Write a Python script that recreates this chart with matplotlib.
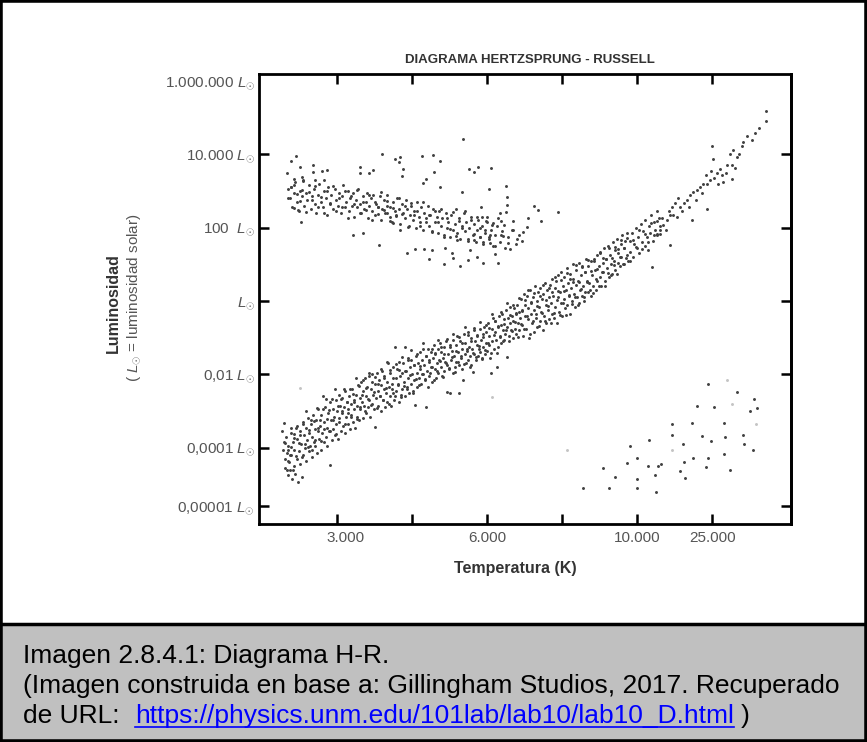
import numpy as np
import matplotlib
matplotlib.use('Agg')
import matplotlib.pyplot as plt
from matplotlib.patches import Rectangle
from matplotlib.lines import Line2D
from matplotlib.transforms import ScaledTranslation

plt.rcParams['font.family'] = ['Liberation Sans', 'DejaVu Sans']
plt.rcParams['mathtext.fontset'] = 'custom'
plt.rcParams['mathtext.rm'] = 'Liberation Sans'
plt.rcParams['mathtext.it'] = 'Liberation Sans:italic'

# eje x: posicion de temperatura (3.000 ... 25.000), eje y: log10(L / Lsol)
x_ticks = [0, 1, 2, 3, 4, 5]
x_labels = ['3.000', '', '6.000', '', '10.000', '25.000']
y_ticks = [6, 4, 2, 0, -2, -4, -5.59]
y_labels = ['1.000.000 $L_{\\odot}$', '10.000 $L_{\\odot}$', '100  $L_{\\odot}$', '$L_{\\odot}$',
            '0,01 $L_{\\odot}$', '0,0001 $L_{\\odot}$', '0,00001 $L_{\\odot}$']
y_ticks_right = [4, 2, 0, -2, -5.59]

# secuencia principal (parte baja)
ms_low = [
    (-0.74, -3.55), (-0.72, -4.05), (-0.71, -3.85), (-0.70, -4.30), (-0.69, -4.55), (-0.68, -3.70), (-0.67, -4.15),
    (-0.66, -4.75), (-0.65, -3.95), (-0.64, -4.40), (-0.63, -4.62), (-0.62, -3.60), (-0.61, -4.20), (-0.60, -4.85),
    (-0.59, -3.85), (-0.58, -4.50), (-0.57, -4.05), (-0.56, -4.72), (-0.55, -3.45), (-0.54, -4.30), (-0.53, -3.75),
    (-0.52, -4.93), (-0.51, -4.10), (-0.50, -3.55), (-0.49, -4.45), (-0.48, -3.90), (-0.47, -4.80), (-0.46, -3.30),
    (-0.45, -4.20), (-0.44, -3.65), (-0.43, -4.00), (-0.42, -3.45), (-0.41, -4.35), (-0.40, -3.80), (-0.39, -3.20),
    (-0.38, -4.10), (-0.37, -3.60), (-0.36, -3.95), (-0.35, -3.35), (-0.34, -4.25), (-0.33, -3.70), (-0.32, -3.10),
    (-0.31, -3.85), (-0.30, -3.50), (-0.71, -3.32), (-0.66, -4.35), (-0.61, -3.98), (-0.57, -3.62),
    (-0.29, -3.95), (-0.28, -3.25), (-0.27, -4.15), (-0.26, -3.55), (-0.25, -2.95), (-0.24, -3.75), (-0.23, -3.40),
    (-0.22, -4.05), (-0.21, -3.10), (-0.20, -3.60), (-0.19, -2.60), (-0.18, -3.85), (-0.17, -3.30), (-0.16, -2.90),
    (-0.15, -3.70), (-0.14, -3.45), (-0.13, -3.95), (-0.12, -3.05), (-0.11, -3.55), (-0.10, -2.75), (-0.09, -4.47),
    (-0.08, -3.25), (-0.07, -3.80), (-0.06, -2.95), (-0.05, -3.50), (-0.04, -3.15), (-0.03, -3.65), (-0.02, -2.70),
    (-0.01, -3.35), (0.00, -3.00), (0.01, -3.75), (0.02, -2.55), (0.03, -3.20), (0.04, -2.85), (0.05, -3.55),
    (0.06, -3.05), (0.07, -2.65), (0.08, -3.40), (0.09, -2.90), (0.10, -3.60), (0.11, -2.45), (0.12, -3.15),
    (0.13, -2.75), (0.14, -3.35), (0.15, -2.95), (0.16, -2.60), (0.17, -3.50), (0.18, -2.80), (0.19, -3.10),
    (0.20, -2.40), (0.21, -3.30), (0.22, -2.70), (0.23, -2.95), (0.24, -3.45), (0.25, -2.55), (0.26, -3.15),
    (0.27, -2.85), (0.28, -2.30), (0.29, -3.25), (0.30, -2.65),
    (0.31, -2.95), (0.32, -2.20), (0.33, -2.75), (0.34, -3.20), (0.35, -2.45), (0.36, -2.85), (0.37, -2.10),
    (0.38, -3.05), (0.39, -2.60), (0.40, -2.35), (0.41, -2.90), (0.42, -2.05), (0.43, -2.70), (0.44, -3.15),
    (0.45, -2.40), (0.46, -2.80), (0.47, -2.00), (0.48, -2.55), (0.49, -2.95), (0.50, -2.25), (0.51, -3.43),
    (0.52, -2.65), (0.53, -1.95), (0.54, -2.45), (0.55, -2.85), (0.56, -2.15), (0.57, -2.60), (0.58, -3.00),
    (0.59, -2.30), (0.60, -1.90), (0.61, -2.70), (0.62, -2.40), (0.63, -2.05), (0.64, -2.90), (0.65, -2.50),
    (0.66, -2.20), (0.67, -2.75), (0.68, -1.69), (0.69, -2.35), (0.70, -2.60), (0.71, -1.95), (0.72, -2.85),
    (0.73, -2.25), (0.74, -2.50), (0.75, -1.80),
]

# secuencia principal (parte media)
ms_mid = [
    (0.76, -2.70), (0.77, -1.25), (0.78, -2.10), (0.79, -2.45), (0.80, -1.85), (0.81, -2.30), (0.82, -2.75),
    (0.83, -1.65), (0.84, -2.05), (0.85, -2.55), (0.86, -1.95), (0.87, -2.40), (0.88, -1.70), (0.89, -2.20),
    (0.90, -2.60), (0.91, -1.25), (0.92, -1.90), (0.93, -2.35), (0.94, -1.55), (0.95, -2.10), (0.96, -2.50),
    (0.97, -1.80), (0.98, -2.25), (0.99, -1.60), (1.00, -2.00), (1.01, -2.45), (1.02, -1.75), (1.03, -2.15),
    (1.04, -2.83), (1.05, -1.50), (1.06, -1.95), (1.07, -2.35), (1.08, -1.70), (1.09, -2.10), (1.10, -1.40),
    (1.11, -1.85), (1.12, -2.25), (1.13, -1.60), (1.14, -2.00), (1.15, -1.14), (1.16, -1.75), (1.17, -2.15),
    (1.18, -1.50), (1.19, -2.89), (1.20, -1.90),
    (1.21, -1.30), (1.22, -2.05), (1.23, -1.65), (1.24, -1.95), (1.25, -1.40), (1.26, -1.80), (1.27, -2.20),
    (1.28, -1.55), (1.29, -1.20), (1.30, -1.85), (1.31, -1.45), (1.32, -2.10), (1.33, -1.70), (1.34, -1.30),
    (1.35, -1.95), (1.36, -1.60), (1.37, -1.15), (1.38, -1.80), (1.39, -1.40), (1.40, -2.05), (1.41, -1.55),
    (1.42, -1.25), (1.43, -1.90), (1.44, -1.65), (1.45, -1.10), (1.46, -1.75), (1.47, -2.48), (1.48, -1.45),
    (1.49, -1.85), (1.50, -1.20), (1.51, -2.51), (1.52, -1.60), (1.53, -1.35), (1.54, -1.95), (1.55, -1.05),
    (1.56, -1.50), (1.57, -1.80), (1.58, -1.20), (1.59, -1.65), (1.60, -0.95), (1.61, -1.40), (1.62, -2.51),
    (1.63, -1.75), (1.64, -1.10), (1.65, -1.55), (1.66, -1.30), (1.67, -1.85), (1.68, -2.15), (1.69, -0.90),
    (1.70, -1.45), (1.71, -1.15), (1.72, -1.70), (1.73, -1.35), (1.74, -0.85), (1.75, -1.60), (1.76, -1.25),
    (1.77, -1.50), (1.78, -1.00), (1.79, -1.75), (1.80, -1.30), (1.81, -1.93), (1.82, -0.80), (1.83, -1.45),
    (1.84, -1.10), (1.85, -1.60), (1.86, -1.20), (1.87, -0.95), (1.88, -1.50), (1.89, -1.30), (1.90, -0.75),
    (1.91, -1.40), (1.92, -1.05), (1.93, -1.55), (1.94, -0.90), (1.95, -1.25), (1.96, -0.70), (1.97, -1.45),
    (1.98, -1.15), (1.99, -0.85), (2.00, -1.35),
    (2.01, -0.60), (2.02, -1.20), (2.03, -0.95), (2.04, -1.55), (2.05, -1.96), (2.06, -0.75), (2.07, -1.10),
    (2.08, -0.45), (2.09, -1.30), (2.10, -0.85), (2.11, -0.55), (2.12, -1.05), (2.13, -1.80), (2.14, -0.70),
    (2.15, -1.25), (2.16, -0.40), (2.17, -0.95), (2.18, -0.65), (2.19, -1.15), (2.20, -0.35), (2.21, -0.80),
    (2.22, -1.05), (2.23, -0.50), (2.24, -0.90), (2.25, -0.25), (2.26, -0.70), (2.27, -1.53), (2.28, -0.45),
    (2.29, -0.95), (2.30, -0.60), (2.31, -0.15), (2.32, -0.80), (2.33, -0.40), (2.34, -1.00), (2.35, -0.55),
    (2.36, -0.20), (2.37, -0.75), (2.38, -0.35), (2.39, -0.90), (2.40, -0.10), (2.41, -0.60), (2.42, -0.30),
    (2.43, -0.80), (2.44, -0.45),
    (2.45, 0.05), (2.46, -0.65), (2.47, -0.25), (2.48, -0.95), (2.49, 0.20), (2.50, -0.40), (2.51, -0.10),
    (2.52, -0.75), (2.53, 0.15), (2.54, -0.50), (2.55, -0.20), (2.56, -1.00), (2.57, 0.30), (2.58, -0.35),
    (2.59, -0.05), (2.60, -0.60), (2.61, 0.10), (2.62, -0.85), (2.63, -0.25), (2.64, 0.40), (2.65, -0.45),
    (2.66, 0.00), (2.67, -0.70), (2.68, 0.25), (2.69, -0.15), (2.70, -0.55), (2.71, 0.35), (2.72, -0.30),
    (2.73, 0.05), (2.74, -0.80), (2.75, 0.20), (2.76, -0.40), (2.77, 0.50), (2.78, -0.10), (2.79, -0.60),
    (2.80, 0.30), (2.81, -0.25), (2.82, 0.10), (2.83, -0.50), (2.84, 0.45), (2.85, -0.05), (2.86, -0.35),
    (2.87, 0.60), (2.88, 0.15),
    (2.89, -0.45), (2.90, 0.35), (2.91, -0.15), (2.92, 0.55), (2.93, -0.60), (2.94, 0.10), (2.95, 0.70),
    (2.96, -0.30), (2.97, 0.25), (2.98, -0.05), (2.99, 0.80), (3.00, -0.40), (3.01, 0.40), (3.02, 0.05),
    (3.03, 0.65), (3.04, -0.20), (3.05, 0.30), (3.06, 0.90), (3.07, -0.10), (3.08, 0.50), (3.09, 0.15),
    (3.10, -0.35), (3.11, 0.75), (3.12, 0.35), (3.13, 0.00), (3.14, 0.60), (3.15, 1.00), (3.16, 0.20),
    (3.17, -0.15), (3.18, 0.45), (3.19, 0.85), (3.20, 0.10), (3.21, 0.55), (3.22, -0.05), (3.23, 1.05),
    (3.24, 0.30), (3.25, 0.70), (3.26, 0.15), (3.27, 0.95), (3.28, 0.40), (3.29, 0.00), (3.30, 0.80),
    (3.31, 0.25), (3.32, 1.15), (3.33, 0.55),
]

# secuencia principal (parte alta)
ms_high = [
    (3.34, 0.25), (3.35, 0.95), (3.36, 0.50), (3.38, 1.10), (3.38, 0.15), (3.40, 0.70), (3.41, 0.40),
    (3.42, 1.15), (3.44, 0.85), (3.45, 0.30), (3.46, 1.25), (3.47, 0.55), (3.49, 0.95), (3.50, 0.65),
    (3.51, 1.35), (3.52, 0.40), (3.54, 1.05), (3.55, 0.80), (3.56, 1.45), (3.57, 0.55), (3.59, 1.15),
    (3.60, 0.90), (3.61, 1.50), (3.62, 0.65), (3.64, 1.25), (3.65, 1.00), (3.66, 0.75), (3.68, 1.60),
    (3.69, 1.10), (3.70, 0.85), (3.71, 1.40), (3.73, 1.70), (3.74, 1.05), (3.75, 1.30), (3.77, 0.95),
    (3.78, 1.55), (3.79, 1.20), (3.80, 1.80), (3.82, 1.00), (3.83, 1.45), (3.84, 1.65), (3.86, 1.25),
    (3.87, 1.85),
    (3.88, 1.10), (3.90, 1.65), (3.91, 1.35), (3.93, 1.85), (3.95, 1.20), (3.96, 1.55), (3.98, 2.00),
    (4.00, 1.45), (4.01, 1.75), (4.03, 1.30), (4.05, 2.10), (4.06, 1.60), (4.08, 1.90), (4.10, 1.50),
    (4.11, 2.20), (4.13, 1.75), (4.14, 1.40), (4.16, 2.05), (4.17, 1.85), (4.19, 2.35), (4.20, 0.93),
    (4.21, 1.65), (4.23, 2.15), (4.24, 1.95), (4.26, 2.45), (4.27, 1.80), (4.29, 2.25), (4.30, 2.05),
    (4.26, 1.84), (4.31, 1.93), (4.35, 2.07), (4.40, 2.21), (4.44, 2.34), (4.44, 1.53), (4.46, 2.55),
    (4.51, 2.66), (4.53, 2.30), (4.57, 2.57), (4.62, 2.66), (4.66, 2.75), (4.71, 2.88), (4.73, 2.21),
    (4.75, 2.98), (4.80, 3.04), (4.84, 3.10), (4.88, 3.19), (4.93, 3.19), (4.92, 3.43), (4.93, 2.51),
    (4.97, 3.30), (4.33, 2.25), (4.38, 1.95), (4.42, 2.45), (4.48, 2.35), (4.55, 2.80), (4.60, 2.45),
    (4.69, 2.55), (4.78, 2.75), (4.86, 2.95), (4.98, 3.55),
    (5.00, 4.22), (5.01, 3.86), (5.02, 3.36), (5.06, 3.48), (5.08, 3.20), (5.10, 3.60), (5.13, 3.43),
    (5.15, 3.25), (5.18, 3.48), (5.20, 3.70), (5.24, 4.00), (5.26, 3.33), (5.27, 3.71), (5.28, 4.11),
    (5.31, 3.62), (5.33, 3.92), (5.36, 4.02), (5.40, 4.24), (5.41, 4.33), (5.46, 4.51), (5.53, 4.39),
    (5.57, 4.59), (5.62, 4.71), (5.72, 4.90), (5.72, 5.19),
]

# secuencia principal (relleno del nucleo)
ms_fill = [
    (-0.69, -3.86), (-0.67, -4.62), (-0.65, -4.05), (-0.63, -4.21), (-0.61, -3.47), (-0.59, -4.60), (-0.57, -3.73),
    (-0.55, -4.23), (-0.53, -3.42), (-0.51, -3.87), (-0.49, -3.66), (-0.47, -4.26), (-0.45, -3.34), (-0.43, -3.90),
    (-0.41, -3.01), (-0.39, -3.99), (-0.37, -3.53), (-0.35, -3.25), (-0.33, -4.06), (-0.31, -3.27), (-0.29, -3.78),
    (-0.27, -2.91), (-0.25, -3.47), (-0.23, -3.24), (-0.21, -3.83), (-0.19, -2.95), (-0.17, -3.49), (-0.15, -2.66),
    (-0.13, -3.23), (-0.11, -2.97), (-0.09, -3.54), (-0.07, -2.68), (-0.05, -3.24), (-0.03, -2.41), (-0.01, -3.62),
    (0.01, -2.86), (0.03, -3.29), (0.05, -2.66), (0.07, -2.99), (0.09, -2.41), (0.11, -3.34), (0.13, -2.76),
    (0.15, -3.04), (0.17, -2.41), (0.19, -3.16), (0.21, -2.53), (0.23, -2.74), (0.25, -2.11), (0.27, -3.22),
    (0.29, -2.33), (0.31, -2.89), (0.33, -2.55), (0.35, -2.15), (0.37, -3.01), (0.39, -2.37), (0.41, -2.67),
    (0.43, -1.97), (0.45, -2.83), (0.47, -2.21), (0.49, -2.48), (0.51, -2.06), (0.53, -2.92), (0.55, -2.27),
    (0.57, -2.58), (0.59, -1.86), (0.61, -2.69), (0.63, -2.10), (0.65, -2.37), (0.67, -1.65), (0.69, -2.81),
    (0.71, -1.89), (0.73, -2.39), (0.75, -2.11), (0.77, -2.59), (0.79, -1.71), (0.81, -2.25), (0.83, -1.88),
    (0.85, -2.61), (0.87, -1.52), (0.89, -2.32), (0.91, -1.91), (0.93, -2.39), (0.95, -1.62), (0.97, -2.03),
    (0.99, -1.34), (1.01, -2.50), (1.03, -1.75), (1.05, -2.13), (1.07, -1.44), (1.09, -2.30), (1.11, -1.78),
    (1.13, -1.99), (1.15, -1.31), (1.17, -2.13), (1.19, -1.51), (1.21, -2.34), (1.23, -1.60), (1.25, -1.80),
    (1.27, -1.30), (1.29, -2.14), (1.31, -1.42), (1.33, -1.90), (1.35, -1.05), (1.37, -1.63), (1.39, -1.26),
    (1.41, -2.06), (1.43, -1.44), (1.45, -1.70), (1.47, -1.03), (1.49, -1.84), (1.51, -1.26), (1.53, -1.54),
    (1.55, -0.90), (1.57, -1.93), (1.59, -1.35), (1.61, -1.67), (1.63, -0.98), (1.65, -1.49), (1.67, -1.14),
    (1.69, -1.73), (1.71, -0.71), (1.73, -1.32), (1.75, -0.94), (1.77, -1.80), (1.79, -1.09), (1.81, -1.42),
    (1.83, -0.73), (1.85, -1.53), (1.87, -0.92), (1.89, -1.22), (1.91, -0.58), (1.93, -1.58), (1.95, -0.99),
    (1.97, -1.33), (1.99, -0.66), (2.01, -1.14), (2.03, -0.74), (2.05, -1.41), (2.07, -0.35), (2.09, -0.93),
    (2.11, -0.55), (2.13, -1.42), (2.15, -0.67), (2.17, -0.99), (2.19, -0.29), (2.21, -1.09), (2.23, -0.63),
    (2.25, -0.78), (2.27, -0.05), (2.29, -1.10), (2.31, -0.38), (2.33, -0.83), (2.35, -0.12), (2.37, -0.58),
    (2.39, -0.32), (2.41, -0.99), (2.43, 0.09), (2.45, -0.64), (2.47, -0.26), (2.49, -0.76), (2.51, 0.02),
    (2.53, -0.41), (2.55, 0.31), (2.57, -0.89), (2.59, -0.04), (2.61, -0.54), (2.63, 0.23), (2.65, -0.35),
    (2.67, -0.14), (2.69, -0.69), (2.71, 0.15), (2.73, -0.33), (2.75, 0.43), (2.77, -0.55), (2.79, 0.04),
    (2.81, -0.14), (2.83, 0.35), (2.85, -0.61), (2.87, 0.24), (2.89, -0.34), (2.91, 0.66), (2.93, 0.02),
    (2.95, 0.27), (2.97, -0.38), (2.99, 0.57), (3.01, -0.05), (3.03, 0.28), (3.05, -0.37), (3.07, 0.77),
    (3.09, 0.16), (3.11, 0.61), (3.13, -0.07), (3.15, 0.51), (3.17, 0.11), (3.19, 0.99), (3.21, -0.11),
    (3.23, 0.52), (3.25, 0.34), (3.27, 0.92), (3.29, 0.10), (3.31, 0.79), (3.33, 0.52), (3.35, 1.13),
    (3.37, 0.31), (3.39, 0.81), (3.41, 0.22), (3.43, 1.10), (3.45, 0.60), (3.47, 0.86), (3.49, 0.42),
    (3.51, 1.32), (3.53, 0.80), (3.55, 1.18), (3.57, 0.41), (3.59, 1.14), (3.61, 0.77), (3.63, 1.45),
    (3.65, 0.70), (3.67, 1.16), (3.69, 0.99), (3.71, 1.47), (3.73, 0.75), (3.75, 1.41), (3.77, 1.21),
    (3.79, 1.67), (3.81, 1.02), (3.83, 1.45), (3.85, 1.18), (3.87, 1.72), (3.90, 1.10), (3.94, 1.66),
    (3.98, 1.47), (4.02, 1.93), (4.06, 1.41), (4.10, 1.83), (4.14, 1.61), (4.18, 2.12), (4.22, 1.81),
    (4.26, 2.18), (4.30, 1.84),
]

# gigantes (nucleo denso)
giants_core = [
    (-0.63, 2.80), (-0.61, 3.10), (-0.60, 2.55), (-0.57, 2.95), (-0.56, 3.25), (-0.54, 2.70), (-0.51, 2.45),
    (-0.50, 3.00), (-0.47, 2.85), (-0.46, 3.30), (-0.44, 2.60), (-0.41, 2.95), (-0.40, 2.75), (-0.38, 3.15),
    (-0.35, 2.50), (-0.34, 2.85), (-0.31, 3.05), (-0.30, 2.65), (-0.28, 2.40), (-0.25, 2.90), (-0.24, 3.20),
    (-0.22, 2.70), (-0.19, 2.55), (-0.18, 3.00), (-0.15, 2.80), (-0.13, 2.35), (-0.12, 3.10), (-0.09, 2.65),
    (-0.08, 2.90), (-0.05, 2.50), (-0.03, 3.05), (-0.02, 2.75), (0.01, 2.60), (0.02, 2.95), (0.05, 2.40),
    (0.06, 2.85), (0.08, 3.15), (0.10, 2.55), (0.12, 2.70), (0.14, 3.00), (0.16, 2.45), (0.17, 2.80),
    (0.20, 2.60), (0.21, 2.95), (0.23, 2.30), (0.25, 2.75), (0.27, 2.55), (0.28, 3.05), (0.31, 2.65),
    (0.32, 2.40), (0.34, 2.85), (0.36, 2.50), (0.38, 2.70), (0.40, 2.95), (0.41, 2.25), (0.43, 2.60),
    (0.45, 2.80), (0.47, 2.45), (0.48, 2.90), (0.51, 2.35), (0.52, 2.65), (0.54, 2.55), (0.57, 2.85),
    (0.58, 2.20), (0.60, 2.50), (0.62, 2.75), (0.64, 2.40), (0.66, 2.60), (0.67, 2.90), (0.70, 2.30),
    (0.71, 2.55), (0.73, 2.15), (0.75, 2.70), (0.77, 2.45), (0.79, 2.35), (0.80, 2.80), (0.83, 2.50),
    (0.84, 2.10), (0.86, 2.65), (0.88, 2.40), (0.90, 2.25), (0.92, 2.75), (0.93, 2.50), (0.96, 2.05),
    (0.97, 2.35), (0.99, 2.60), (1.01, 2.20), (1.03, 2.45), (1.05, 2.00), (1.06, 2.70), (1.09, 2.30),
    (1.10, 2.15), (1.12, 2.55), (1.15, 1.95), (1.16, 2.40), (1.18, 2.25), (1.21, 2.60), (1.22, 2.05),
    (1.24, 2.35), (1.27, 1.90), (1.28, 2.50), (1.30, 2.15), (1.33, 2.30), (1.34, 1.85), (1.36, 2.45),
    (1.39, 2.05), (1.40, 2.25), (1.42, 1.80), (1.45, 2.40), (1.46, 2.00), (1.48, 2.15), (1.51, 1.75),
    (1.52, 2.35), (1.54, 1.95), (1.57, 2.10), (1.58, 2.50), (1.60, 1.85), (1.63, 2.25), (1.64, 1.70),
    (1.66, 2.05), (1.69, 2.40), (1.70, 1.90), (1.72, 2.15), (1.75, 1.65), (1.76, 2.00), (1.78, 2.30),
    (1.81, 1.80), (1.82, 2.10), (1.85, 1.60), (1.87, 1.95), (1.88, 2.20), (1.91, 1.75), (1.93, 2.05),
    (1.95, 1.55), (1.97, 1.85), (2.00, 2.15), (2.02, 1.70), (2.05, 1.95), (2.08, 1.50), (2.10, 1.80),
    (2.13, 2.05), (2.17, 1.60), (2.20, 1.90), (2.24, 1.45), (2.28, 1.75), (2.33, 1.95), (2.38, 1.55),
    (2.42, 1.80), (2.47, 1.65),
    (-0.62, 3.10), (-0.58, 2.54), (-0.54, 2.93), (-0.50, 2.72), (-0.46, 3.26), (-0.42, 2.44), (-0.38, 2.97),
    (-0.34, 2.76), (-0.30, 3.13), (-0.26, 2.57), (-0.22, 2.83), (-0.18, 2.40), (-0.14, 3.01), (-0.10, 2.66),
    (-0.06, 3.14), (-0.02, 2.45), (0.02, 2.82), (0.06, 2.55), (0.10, 3.00), (0.14, 2.26), (0.18, 2.85),
    (0.22, 2.64), (0.26, 3.03), (0.30, 2.39), (0.34, 2.70), (0.38, 2.49), (0.42, 2.88), (0.46, 2.21),
    (0.50, 2.70), (0.54, 2.37), (0.58, 2.97), (0.62, 2.48), (0.66, 2.73), (0.70, 2.18), (0.74, 2.54),
    (0.78, 2.31), (0.82, 2.81), (0.86, 2.37), (0.90, 2.60), (0.94, 2.01), (0.98, 2.66), (1.02, 2.34),
    (1.06, 2.45), (1.10, 2.05), (1.14, 2.71), (1.18, 2.16), (1.22, 2.34), (1.26, 1.89), (1.30, 2.45),
    (1.34, 2.15), (1.38, 2.51), (1.42, 1.74), (1.46, 2.27), (1.50, 1.97), (1.54, 2.43), (1.58, 1.78),
    (1.62, 2.17), (1.66, 1.99), (1.70, 2.45), (1.74, 1.69), (1.78, 2.22), (1.82, 1.84), (1.86, 2.30),
    (1.90, 1.98), (1.94, 1.60), (1.98, 2.19), (2.02, 1.75), (2.06, 2.07), (2.10, 1.50), (2.14, 2.27),
    (2.18, 1.81), (2.22, 2.07), (2.28, 1.59), (2.34, 1.95), (2.40, 1.70),
]

# gigantes (dispersas)
giants_sparse = [
    (-0.55, 3.96), (-0.61, 3.81), (-0.67, 3.50), (-0.50, 3.66), (-0.58, 3.34), (-0.58, 3.16), (-0.65, 3.05),
    (-0.65, 2.81), (-0.47, 3.39), (-0.47, 3.02), (-0.32, 3.71), (-0.32, 3.52), (-0.20, 3.55), (-0.14, 3.57),
    (-0.29, 3.30), (-0.18, 3.30), (-0.52, 2.48), (-0.48, 2.16), (0.31, 3.66), (0.31, 3.48), (0.42, 3.50),
    (0.48, 3.57), (0.60, 4.02), (0.77, 3.87), (0.84, 3.92), (0.83, 3.78), (0.88, 3.59), (0.86, 3.41),
    (1.13, 3.96), (1.28, 3.98), (1.37, 3.81), (1.29, 3.52), (1.19, 3.34), (1.15, 3.21), (1.37, 3.11),
    (1.76, 3.60), (1.82, 3.51), (1.88, 3.66), (2.05, 3.63), (2.02, 3.05), (2.25, 3.14), (2.26, 2.84),
    (1.66, 2.98), (0.21, 1.80), (0.35, 1.86), (0.56, 1.52), (0.93, 1.30), (1.04, 1.42), (1.16, 1.42),
    (1.27, 1.39), (1.22, 1.14), (1.42, 1.01), (1.55, 1.16), (1.64, 0.96), (1.75, 1.12), (1.87, 1.19),
    (1.94, 1.05), (2.11, 1.27), (2.15, 1.05), (2.31, 1.41), (2.21, 1.78), (2.04, 1.57), (2.62, 2.60),
    (2.68, 2.48), (2.72, 2.18), (2.53, 2.01), (2.55, 2.27), (2.48, 1.89), (2.94, 2.42), (2.35, 2.18),
    (2.18, 2.18), (2.08, 2.13), (2.17, 2.39), (2.25, 2.43), (2.26, 2.62), (2.00, 2.30), (1.92, 2.57),
    (1.93, 2.30), (2.04, 1.80), (1.97, 1.93), (1.91, 1.75), (1.82, 1.66), (1.77, 1.39), (1.53, 1.30),
    (1.44, 1.44), (1.60, 1.66), (0.55, 2.57), (0.66, 2.39), (0.75, 2.12), (0.84, 1.93), (1.68, 4.42),
]

# enanas blancas
dwarfs = [
    (3.28, -5.10), (3.55, -4.56), (3.62, -5.10), (3.71, -4.81), (3.87, -4.42), (3.90, -3.96), (4.00, -4.29),
    (4.00, -4.85), (4.00, -5.10), (4.14, -4.51), (4.16, -3.79), (4.24, -4.75), (4.25, -5.21), (4.28, -4.50),
    (4.32, -4.45), (4.47, -3.36), (4.47, -3.64), (4.57, -4.64), (4.61, -3.90), (4.62, -4.39), (4.64, -4.83),
    (4.73, -3.32), (4.75, -4.29), (4.80, -2.86), (4.87, -3.68), (4.92, -4.52), (4.94, -4.29), (4.94, -2.26),
    (4.99, -3.82), (5.02, -2.90), (5.16, -3.32), (5.17, -3.70), (5.16, -4.18), (5.24, -4.60), (5.33, -2.48),
    (5.42, -3.89), (5.41, -3.64), (5.51, -3.01), (5.56, -2.66), (5.60, -2.93), (5.55, -4.07),
]

# puntos tenues
faint = [(4.46, -4.06), (5.20, -2.15), (5.26, -2.80), (5.58, -3.35), (3.07, -4.07), (2.07, -2.62), (-0.49, -2.37)]

W, H = 867, 742
fig = plt.figure(figsize=(W / 100, H / 100), dpi=100)
fig.patch.set_facecolor('white')

ax = fig.add_axes([259 / W, 1 - 524 / H, (791 - 259) / W, (524 - 74) / H])
dot = '#404040'
for pts in [ms_low, ms_mid, ms_high, ms_fill, giants_core, giants_sparse, dwarfs]:
    a = np.array(pts)
    ax.scatter(a[:, 0], a[:, 1], s=4.5, c=dot, linewidths=0)
a = np.array(faint)
ax.scatter(a[:, 0], a[:, 1], s=4.5, c='#c4c4c4', linewidths=0)

ax.set_xlim(-1.04, 6.05)
ax.set_ylim(-6.08, 6.19)
for s in ax.spines.values():
    s.set_linewidth(2)
ax.set_xticks(x_ticks)
ax.set_xticklabels(x_labels, fontsize=11, color='#555555')
ax.set_yticks(y_ticks)
ax.set_yticklabels(y_labels, fontsize=11, color='#555555')
ax.tick_params(axis='both', direction='in', length=7, width=1.8, top=True)
ax.tick_params(axis='y', pad=3)
ax.tick_params(axis='x', pad=5)
ax.yaxis.get_major_ticks()[0].tick1line.set_visible(False)
# la etiqueta 3.000 esta algo desplazada a la derecha en el original
lab0 = ax.xaxis.get_major_ticks()[0].label1
lab0.set_transform(lab0.get_transform() + ScaledTranslation(0.08, 0, fig.dpi_scale_trans))
sec = ax.secondary_yaxis('right')
sec.set_yticks(y_ticks_right)
sec.set_yticklabels([])
sec.tick_params(direction='in', length=7, width=1.8)
sec.spines['right'].set_linewidth(2)

fig.text(530 / W, 1 - 60 / H, 'DIAGRAMA HERTZSPRUNG - RUSSELL', ha='center', va='center',
         fontsize=9.5, fontweight='bold', color='#333333')
fig.text(515 / W, 1 - 569 / H, 'Temperatura (K)', ha='center', va='center',
         fontsize=11.5, fontweight='bold', color='#333333')
fig.text(113 / W, 1 - 303 / H, 'Luminosidad', rotation=90, ha='center', va='center',
         fontsize=11.5, fontweight='bold', color='#333333')
fig.text(134 / W, 1 - 298 / H, '( $L_{\\odot}$ = luminosidad solar)', rotation=90, ha='center', va='center',
         fontsize=11, color='#555555')

# zona del pie de imagen
fig.patches.append(Rectangle((0, 0), 1, (H - 624) / H, transform=fig.transFigure,
                             facecolor='#c0c0c0', edgecolor='none', zorder=0))
fig.lines.append(Line2D([0, 1], [(H - 624) / H] * 2, transform=fig.transFigure, color='black', lw=2.5))
fig.patches.append(Rectangle((0, 0), 1, 1, transform=fig.transFigure, fill=False,
                             edgecolor='black', lw=4, zorder=5))

cap = 19
fig.text(23 / W, 1 - 663 / H, 'Imagen 2.8.4.1: Diagrama H-R.', fontsize=cap, va='baseline')
fig.text(23 / W, 1 - 693 / H, '(Imagen construida en base a: Gillingham Studios, 2017. Recuperado',
         fontsize=cap, va='baseline')
fig.text(23 / W, 1 - 723 / H, 'de URL:', fontsize=cap, va='baseline')
link = fig.text(135 / W, 1 - 723 / H, 'https://physics.unm.edu/101lab/lab10/lab10_D.html',
                fontsize=cap, va='baseline', color='#0000ff')
fig.canvas.draw()
bb = link.get_window_extent().transformed(fig.transFigure.inverted())
fig.lines.append(Line2D([bb.x0, bb.x1], [1 - 727 / H] * 2, transform=fig.transFigure, color='#0000ff', lw=1.2))
fig.text(bb.x1 + 7 / W, 1 - 723 / H, ')', fontsize=cap, va='baseline')

fig.savefig('out.png', dpi=100)
